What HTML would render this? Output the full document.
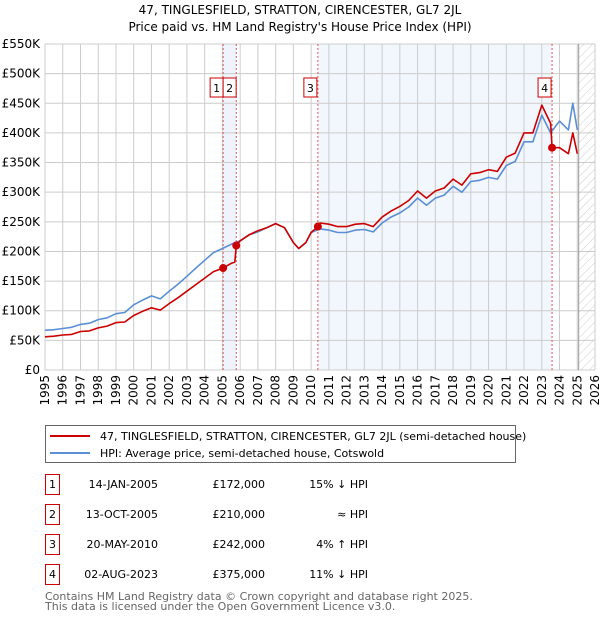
<!DOCTYPE html>
<html><head><meta charset="utf-8"><style>
body{margin:0;background:#fff;}
svg{display:block;font-family:"DejaVu Sans","Liberation Sans",sans-serif;}
</style></head><body>
<svg id="c" width="600" height="620"></svg>
<script>
const years=[];for(let y=1995;y<=2026;y++)years.push(y);
const yTicks=[0,50000,100000,150000,200000,250000,300000,350000,400000,450000,500000,550000];
const yTickLabels=["£0","£50K","£100K","£150K","£200K","£250K","£300K","£350K","£400K","£450K","£500K","£550K"];
const hpiYears=[1995,1995.5,1996,1996.5,1997,1997.5,1998,1998.5,1999,1999.5,2000,2000.5,2001,2001.5,2002,2002.5,2003,2003.5,2004,2004.5,2005,2005.5,2006,2006.5,2007,2007.5,2008,2008.5,2009,2009.3,2009.7,2010,2010.5,2011,2011.5,2012,2012.5,2013,2013.5,2014,2014.5,2015,2015.5,2016,2016.5,2017,2017.5,2018,2018.5,2019,2019.5,2020,2020.5,2021,2021.5,2022,2022.5,2023,2023.5,2024,2024.5,2024.75,2025];
const hpiValues=[67,68,70,72,77,79,85,88,95,97,110,118,125,120,133,145,158,172,185,198,205,212,218,228,233,240,247,240,215,205,215,232,238,236,232,232,236,237,233,248,258,265,275,290,278,290,295,310,300,318,320,325,322,345,352,385,385,430,400,420,405,450,405];
const priceYears=[1995,1995.5,1996,1996.5,1997,1997.5,1998,1998.5,1999,1999.5,2000,2000.5,2001,2001.5,2002,2002.5,2003,2003.5,2004,2004.5,2005.04,2005.5,2005.7,2005.78,2006,2006.5,2007,2007.5,2008,2008.5,2009,2009.3,2009.7,2010,2010.38,2010.5,2011,2011.5,2012,2012.5,2013,2013.5,2014,2014.5,2015,2015.5,2016,2016.5,2017,2017.5,2018,2018.5,2019,2019.5,2020,2020.5,2021,2021.5,2022,2022.5,2023,2023.5,2023.58,2024,2024.5,2024.75,2025];
const priceValues=[56,57,59,60,65,66,71,74,80,81,92,99,105,101,112,122,133,144,155,166,172,180,182,210,218,228,235,240,247,240,215,205,215,232,242,248,246,242,242,246,247,242,258,268,276,286,302,290,302,307,322,312,331,333,338,335,359,366,400,400,447,416,375,375,365,400,365];
const saleLabels=["1","2","3","4"];
const saleYears=[2005.04,2005.78,2010.38,2023.58];
const salePrices=[172,210,242,375];
const saleDates=["14-JAN-2005","13-OCT-2005","20-MAY-2010","02-AUG-2023"];
const salePriceText=["£172,000","£210,000","£242,000","£375,000"];
const saleHpiText=["15% ↓ HPI","≈ HPI","4% ↑ HPI","11% ↓ HPI"];

const X0=45,X1=595,Y0=370,Y1=44;
const xs=y=>X0+(y-1995)/(2026-1995)*(X1-X0);
const ys=v=>Y0-v/550000*(Y0-Y1);
const NS="http://www.w3.org/2000/svg";
const svg=document.getElementById('c');
function mk(tag,attrs,parent){const e=document.createElementNS(NS,tag);for(const k in attrs)e.setAttribute(k,attrs[k]);(parent||svg).appendChild(e);return e;}

let t=mk('text',{x:300,y:14,'text-anchor':'middle','font-size':12,fill:'#000'});t.textContent="47, TINGLESFIELD, STRATTON, CIRENCESTER, GL7 2JL";


t=mk('text',{x:300,y:31,'text-anchor':'middle','font-size':12,fill:'#000'});t.textContent="Price paid vs. HM Land Registry's House Price Index (HPI)";



// shading
let r=mk('rect',{x:xs(saleYears[0]),y:Y1,width:xs(saleYears[1])-xs(saleYears[0]),height:Y0-Y1,fill:'#eef3fc'});


r=mk('rect',{x:xs(saleYears[2]),y:Y1,width:xs(saleYears[3])-xs(saleYears[2]),height:Y0-Y1,fill:'#f2f6fd'});


// hatch
const defs=mk('defs',{});
const pat=mk('pattern',{id:'h',width:6,height:6,patternUnits:'userSpaceOnUse',patternTransform:'rotate(45)'},defs);
mk('line',{x1:0,y1:0,x2:0,y2:6,stroke:'#ccc','stroke-width':1},pat);
r=mk('rect',{x:xs(2025.08),y:Y1,width:X1-xs(2025.08),height:Y0-Y1,fill:'url(#h)'});



// grid
const grid=mk('g',{stroke:'#cccccc','stroke-width':1});


years.forEach(y=>mk('line',{x1:xs(y),x2:xs(y),y1:Y1,y2:Y0},grid));
yTicks.forEach(v=>mk('line',{x1:X0,x2:X1,y1:ys(v),y2:ys(v)},grid));
let l=mk('line',{x1:xs(2025.08),x2:xs(2025.08),y1:Y1,y2:Y0,stroke:'#999','stroke-width':1});



// y labels
yTicks.forEach((v,i)=>{const e=mk('text',{x:40,y:ys(v)+4,'text-anchor':'end','font-size':12,fill:'#000'});e.textContent=yTickLabels[i];

});
// x labels
years.forEach(y=>{const e=mk('text',{x:0,y:0,'text-anchor':'end','font-size':12,fill:'#000',transform:`translate(${xs(y)+4},375) rotate(-90)`});e.textContent=String(y);

});

// sale lines
saleYears.forEach(y=>{const e=mk('line',{x1:xs(y),x2:xs(y),y1:Y1,y2:Y0,stroke:'#e05555','stroke-width':1,'stroke-dasharray':'2,2'});

});

function path(xa,va,color,name){let d='';xa.forEach((x,i)=>{d+=(i?'L':'M')+xs(x).toFixed(1)+','+ys(va[i]*1000).toFixed(1);});
const p=mk('path',{d:d,fill:'none',stroke:color,'stroke-width':1.6,'stroke-linejoin':'round'});

}
path(hpiYears,hpiValues,'#5b8fd4','hpi-line');
path(priceYears,priceValues,'#cc0000','price-paid-line');
saleYears.forEach((y,i)=>{const c=mk('circle',{cx:xs(y),cy:ys(salePrices[i]*1000),r:4,fill:'#cc0000'});

});
// marker boxes
saleYears.forEach((y,i)=>{const g=mk('g',{});


let bx=xs(y)-14; if(i===1)bx=xs(y)-13; if(i===0)bx=xs(y)-13;
if(i===1)bx=xs(saleYears[0])+0;
if(i===0)bx=xs(saleYears[0])-13;
mk('rect',{x:bx,y:78,width:13,height:19,fill:'#fff',stroke:'#cc0000','stroke-width':1},g);
const e=mk('text',{x:bx+6.5,y:92,'text-anchor':'middle','font-size':11,fill:'#000'},g);e.textContent=saleLabels[i];});

// legend
const lg=mk('g',{});


mk('rect',{x:45.5,y:425.5,width:470,height:37,fill:'#fff',stroke:'#666','stroke-width':1},lg);
mk('line',{x1:50,x2:90,y1:436,y2:436,stroke:'#cc0000','stroke-width':2},lg);
mk('line',{x1:50,x2:90,y1:453,y2:453,stroke:'#5b8fd4','stroke-width':2},lg);
t=mk('text',{x:100,y:440,'font-size':11,fill:'#000'},lg);t.textContent="47, TINGLESFIELD, STRATTON, CIRENCESTER, GL7 2JL (semi-detached house)";


t=mk('text',{x:100,y:457,'font-size':11,fill:'#000'},lg);t.textContent="HPI: Average price, semi-detached house, Cotswold";



// table
saleLabels.forEach((s,i)=>{const yy=483+i*30;
const g=mk('g',{});


mk('rect',{x:45.5,y:yy-8.5,width:14,height:20,fill:'#fff',stroke:'#cc0000','stroke-width':1},g);
let e=mk('text',{x:52.5,y:yy+5,'text-anchor':'middle','font-size':11},g);e.textContent=s;
e=mk('text',{x:158,y:yy+5,'text-anchor':'end','font-size':11},g);e.textContent=saleDates[i];
e=mk('text',{x:265,y:yy+5,'text-anchor':'end','font-size':11},g);e.textContent=salePriceText[i];
e=mk('text',{x:368,y:yy+5,'text-anchor':'end','font-size':11},g);e.textContent=saleHpiText[i];});
t=mk('text',{x:45,y:600,'font-size':11,fill:'#666'});t.textContent="Contains HM Land Registry data © Crown copyright and database right 2025.";


t=mk('text',{x:45,y:610,'font-size':11,fill:'#666'});t.textContent="This data is licensed under the Open Government Licence v3.0.";


</script>
</body></html>
